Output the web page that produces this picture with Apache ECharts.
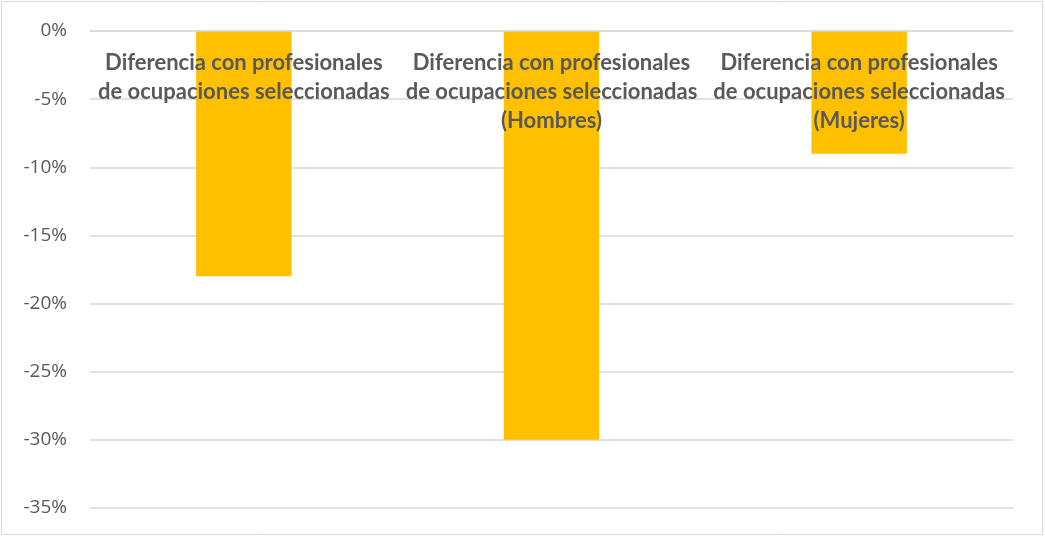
<!DOCTYPE html>
<html>
<head>
<meta charset="utf-8">
<script src="https://cdn.jsdelivr.net/npm/echarts@6/dist/echarts.min.js"></script>
<style>
  html, body { margin: 0; padding: 0; background: #fff; }
  #chart { width: 1045px; height: 537px; }
</style>
</head>
<body>
<div id="chart"></div>
<script>
const categories = [
  'Diferencia con profesionales\nde ocupaciones seleccionadas',
  'Diferencia con profesionales\nde ocupaciones seleccionadas\n(Hombres)',
  'Diferencia con profesionales\nde ocupaciones seleccionadas\n(Mujeres)'
]
const values = [-18, -30, -9]

const chart = echarts.init(document.getElementById('chart'))
const option = {
  backgroundColor: '#ffffff',
  animation: false,
  graphic: [
    {
      type: 'rect',
      shape: { x: 1.5, y: 1.5, width: 1041, height: 533 },
      style: { fill: 'none', stroke: '#d9d9d9', lineWidth: 1 },
      silent: true
    }
  ],
  grid: { left: 90, right: 32, top: 31, bottom: 29 },
  xAxis: {
    type: 'category',
    data: categories,
    position: 'top',
    z: 10,
    axisLine: { onZero: false, lineStyle: { color: '#d9d9d9', width: 1.5 } },
    axisTick: { show: false },
    axisLabel: {
      inside: true,
      interval: 0,
      margin: 17,
      color: '#595959',
      fontFamily: 'Lato',
      fontWeight: 'bold',
      fontSize: 22,
      lineHeight: 29,
      align: 'center',
      verticalAlign: 'top'
    }
  },
  yAxis: {
    type: 'value',
    min: -35,
    max: 0,
    interval: 5,
    axisLine: { show: false },
    axisTick: { show: false },
    splitLine: { lineStyle: { color: '#d9d9d9', width: 1.5 } },
    axisLabel: {
      formatter: '{value}%',
      color: '#595959',
      fontFamily: 'Open Sans',
      fontSize: 19,
      margin: 23
    }
  },
  series: [
    {
      type: 'bar',
      data: values,
      barWidth: '31%',
      itemStyle: { color: '#ffc000' }
    }
  ]
}
chart.setOption(option)
</script>
</body>
</html>
